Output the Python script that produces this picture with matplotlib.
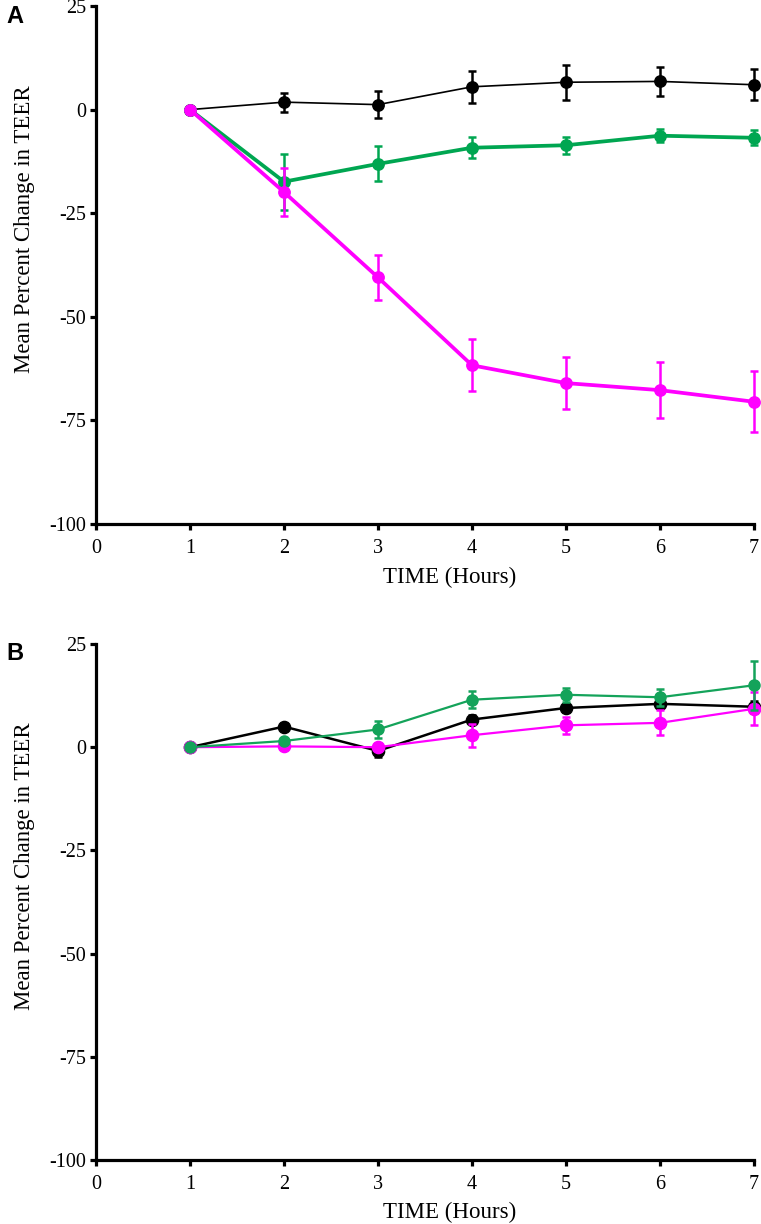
import matplotlib
matplotlib.use('Agg')
import matplotlib.pyplot as plt

hours = [1, 2, 3, 4, 5, 6, 7]

# panel A
a_black = [0, 1.8, 1.2, 5.5, 6.6, 6.8, 6.0]
a_black_err = [0, 2.3, 3.2, 3.9, 4.2, 3.6, 3.8]
a_green = [0, -17.4, -13.1, -9.2, -8.6, -6.3, -6.8]
a_green_err = [0, 6.8, 4.2, 2.5, 2.0, 1.6, 1.8]
a_magenta = [0, -19.9, -40.5, -61.7, -66.0, -67.7, -70.5]
a_magenta_err = [0, 5.7, 5.4, 6.3, 6.3, 6.7, 7.4]

# panel B
b_black = [0, 5.0, -0.9, 6.7, 9.5, 10.5, 9.8]
b_black_err = [0, 0.8, 1.5, 1.0, 1.0, 1.0, 1.5]
b_green = [0, 1.5, 4.3, 11.5, 12.7, 12.1, 15.0]
b_green_err = [0, 0.8, 2.0, 2.0, 1.7, 2.1, 5.9]
b_magenta = [0, 0.2, 0.0, 2.9, 5.3, 5.9, 9.3]
b_magenta_err = [0, 0.5, 1.0, 2.8, 2.0, 3.0, 4.0]

y_ticks = [-100, -75, -50, -25, 0, 25]
x_ticks = [0, 1, 2, 3, 4, 5, 6, 7]

GREEN = '#00a651'
GREEN_B = '#14a35a'
MAGENTA = '#ff00ff'

plt.rcParams['font.family'] = ['Liberation Serif', 'DejaVu Serif']
plt.rcParams['axes.unicode_minus'] = False

fig = plt.figure(figsize=(7.61, 12.24), dpi=100)
ax_a = fig.add_axes([96 / 761, 1 - 524 / 1224, 658 / 761, 518 / 1224])
ax_b = fig.add_axes([96 / 761, 1 - 1160 / 1224, 658 / 761, 516 / 1224])


def draw_series(ax, y, err, color, lw, ms, z):
    ax.errorbar(hours, y, yerr=err, color=color, lw=lw, marker='o', ms=ms,
                capsize=3, capthick=1.8, elinewidth=1.8, zorder=z, clip_on=False)


def style_axes(ax):
    ax.set_xlim(0, 7)
    ax.set_ylim(-100, 25)
    ax.set_xticks(x_ticks)
    ax.set_yticks(y_ticks)
    ax.set_yticklabels([str(v) for v in y_ticks])
    for side in ['top', 'right']:
        ax.spines[side].set_visible(False)
    for side in ['left', 'bottom']:
        ax.spines[side].set_linewidth(2.3)
    ax.tick_params(direction='out', length=4, width=2.3, labelsize=14.5)
    ax.tick_params(axis='x', pad=7)
    ax.tick_params(axis='y', pad=3)
    ax.set_xlabel('TIME (Hours)', fontsize=16.5)
    ax.set_ylabel('Mean Percent Change in TEER', fontsize=16.5)
    ax.xaxis.set_label_coords(0.538, -0.082)
    ax.yaxis.set_label_coords(-0.092, 0.57)


draw_series(ax_a, a_black, a_black_err, 'black', 1.2, 8.2, 3)
draw_series(ax_a, a_green, a_green_err, GREEN, 2.7, 8.2, 4)
draw_series(ax_a, a_magenta, a_magenta_err, MAGENTA, 2.7, 8.2, 5)
style_axes(ax_a)

draw_series(ax_b, b_black, b_black_err, 'black', 1.8, 8.8, 3)
draw_series(ax_b, b_magenta, b_magenta_err, MAGENTA, 1.6, 8.8, 4)
draw_series(ax_b, b_green, b_green_err, GREEN_B, 1.6, 8, 5)
style_axes(ax_b)

fig.text(6 / 761, 1 - 5 / 1224, 'A', family='Liberation Sans', weight='bold',
         fontsize=17, va='top', ha='left')
fig.text(6 / 761, 1 - 642 / 1224, 'B', family='Liberation Sans', weight='bold',
         fontsize=17, va='top', ha='left')

fig.savefig('out.png', dpi=100)
